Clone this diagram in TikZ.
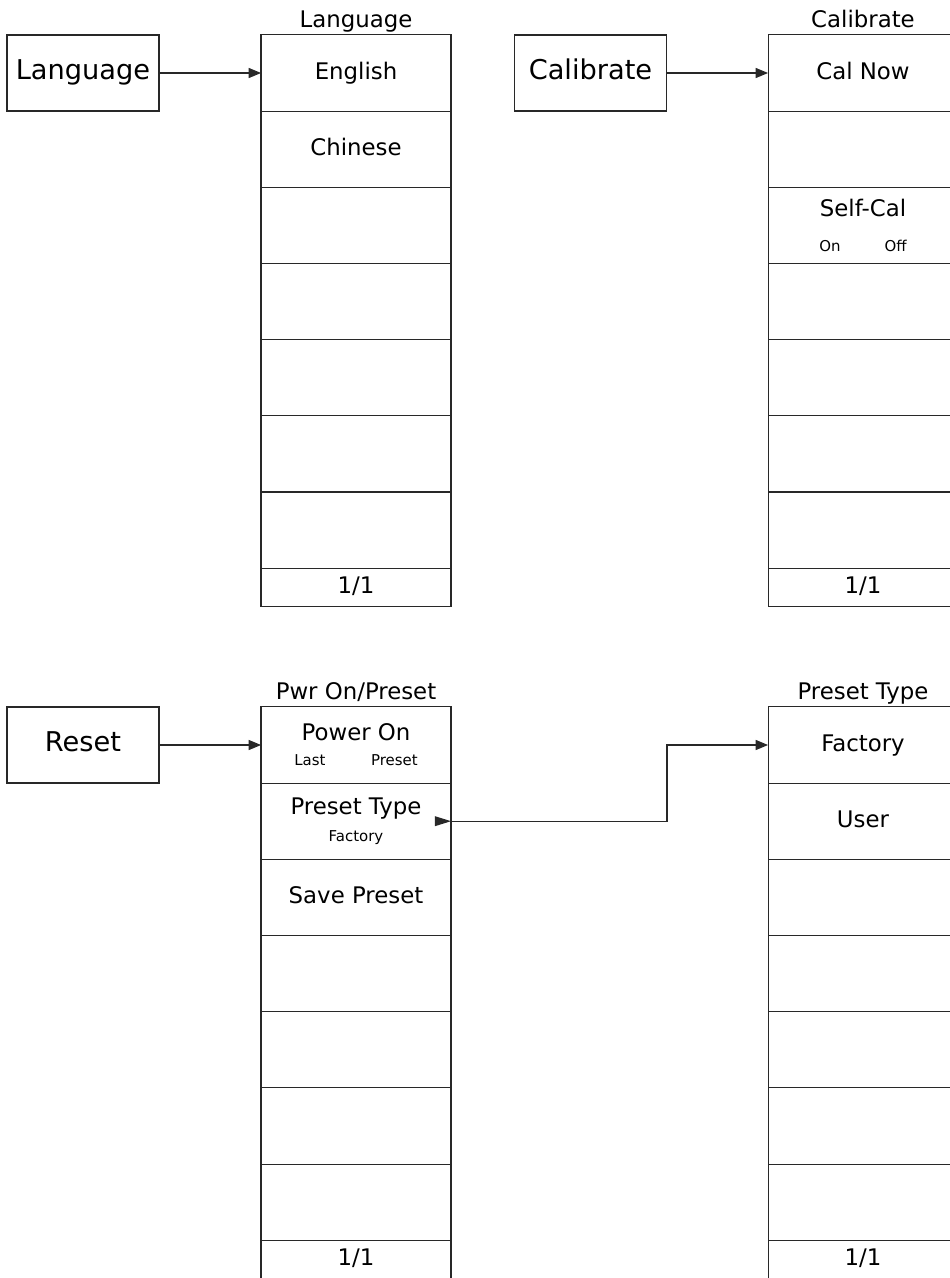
\documentclass[tikz,border=0pt]{standalone}
\usepackage{fontspec}
\setmainfont{DejaVu Sans}
\usepackage{tikz}
\usetikzlibrary{arrows.meta,positioning}
\definecolor{keyline}{RGB}{40,40,40}
\newcommand{\itemsize}{\fontsize{13}{15}\selectfont}
\newcommand{\subsize}{\fontsize{8.5}{10}\selectfont}

\begin{document}
\begin{tikzpicture}[
  x=0.02cm, y=-0.02cm,
  keybox/.style={draw=keyline, line width=0.6pt, minimum width=3.04cm, minimum height=1.52cm, inner sep=0pt, outer sep=0pt, text height=0.73em, text depth=0pt, font=\fontsize{15.5}{18}\selectfont},
  cellbase/.style={draw=keyline, line width=0.6pt, align=center, minimum width=3.8cm, minimum height=1.524cm, inner sep=0pt, outer sep=0pt, font=\itemsize},
  softkey/.style={cellbase, text height=0.73em, text depth=0pt},
  pagekey/.style={softkey, minimum height=0.762cm},
  menutitle/.style={inner sep=0pt, text depth=0.24em, font=\itemsize},
  arr/.style={-{Triangle[length=7pt,width=5.7pt]}, line width=0.6pt, keyline}
]
\useasboundingbox (0,0) rectangle (950,1278);
% Language
\node[keybox] (langkey) at (83,73) {Language};
\node[softkey] (lang1) at (356,73) {English};
\node[softkey, below=0pt of lang1] (lang2) {Chinese};
\foreach \n [remember=\n as \p (initially 2)] in {3,...,7}
  \node[softkey, below=0pt of lang\p] (lang\n) {};
\node[pagekey, below=0pt of lang7] (langpage) {1/1};
\node[menutitle, above=1.7pt of lang1] (langtitle) {Language};
\draw[arr] (langkey) -- (lang1);
% Calibrate
\node[keybox] (calkey) at (590.5,73) {Calibrate};
\node[softkey] (cal1) at (863,73) {Cal Now};
\node[softkey, below=0pt of cal1] (cal2) {};
\node[cellbase, below=0pt of cal2] (cal3) {Self-Cal\\[5pt]{\subsize On\hspace{25pt}Off}};
\foreach \n [remember=\n as \p (initially 3)] in {4,...,7}
  \node[softkey, below=0pt of cal\p] (cal\n) {};
\node[pagekey, below=0pt of cal7] (calpage) {1/1};
\node[menutitle, above=1.7pt of cal1] (caltitle) {Calibrate};
\draw[arr] (calkey) -- (cal1);
% Reset
\node[keybox] (resetkey) at (83,745) {Reset};
\node[cellbase] (pwr1) at (356,745) {Power On\\[-0.8pt]{\subsize Last\hspace{26pt}Preset}};
\node[cellbase, below=0pt of pwr1] (pwr2) {Preset Type\\[0pt]{\subsize Factory}};
\node[softkey, below=0pt of pwr2] (pwr3) {Save Preset};
\foreach \n [remember=\n as \p (initially 3)] in {4,...,7}
  \node[softkey, below=0pt of pwr\p] (pwr\n) {};
\node[pagekey, below=0pt of pwr7] (pwrpage) {1/1};
\node[menutitle, above=1.7pt of pwr1] (pwrtitle) {Pwr On/Preset};
\draw[arr] (resetkey) -- (pwr1);
% Preset Type
\node[softkey] (fac1) at (863,745) {Factory};
\node[softkey, below=0pt of fac1] (fac2) {User};
\foreach \n [remember=\n as \p (initially 2)] in {3,...,7}
  \node[softkey, below=0pt of fac\p] (fac\n) {};
\node[pagekey, below=0pt of fac7] (facpage) {1/1};
\node[menutitle, above=1.7pt of fac1] (factitle) {Preset Type};
\fill[keyline] (pwr2.east) -- ++(-16,5) -- ++(0,-10) -- cycle;
\draw[arr] (pwr2.east) -- ++(216,0) |- (fac1.west);
\end{tikzpicture}
\end{document}
